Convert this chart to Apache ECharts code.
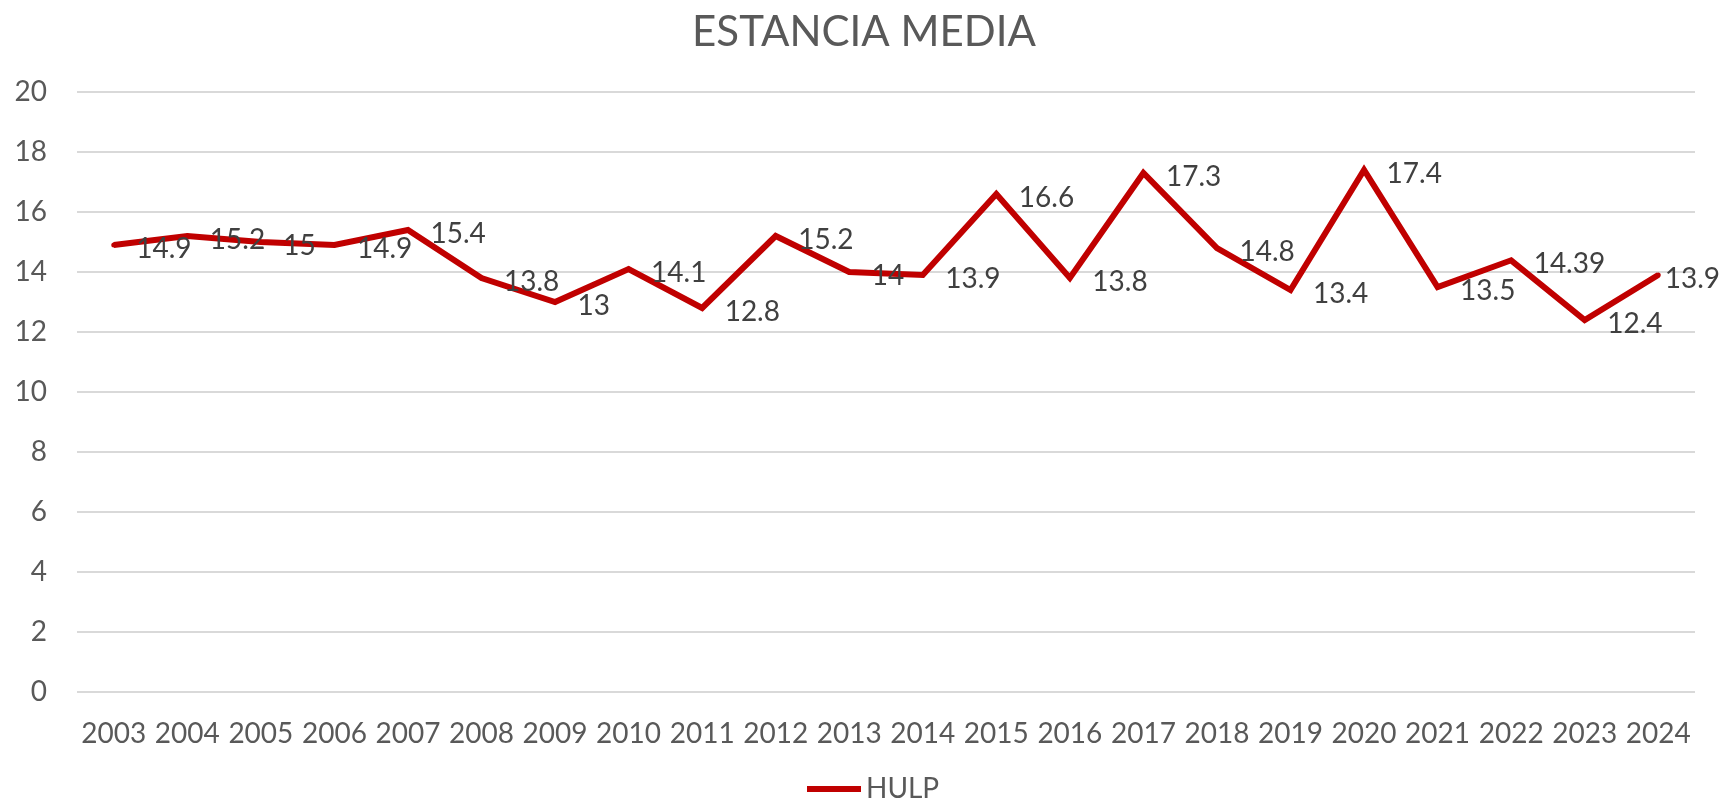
<!DOCTYPE html>
<html>
<head>
<meta charset="utf-8">
<title>ESTANCIA MEDIA</title>
<script src="https://cdn.jsdelivr.net/npm/echarts@6/dist/echarts.min.js"></script>
<style>
  html, body { margin: 0; padding: 0; background: #fff; }
  #chart { width: 1728px; height: 810px; }
</style>
</head>
<body>
<div id="chart"></div>
<script>
  // datos
  const years = ['2003', '2004', '2005', '2006', '2007', '2008', '2009', '2010', '2011', '2012', '2013',
    '2014', '2015', '2016', '2017', '2018', '2019', '2020', '2021', '2022', '2023', '2024'];
  const hulp = [14.9, 15.2, 15, 14.9, 15.4, 13.8, 13, 14.1, 12.8, 15.2, 14,
    13.9, 16.6, 13.8, 17.3, 14.8, 13.4, 17.4, 13.5, 14.39, 12.4, 13.9];
  const seriesName = 'HULP';
  const chartTitle = 'ESTANCIA MEDIA';

  const font = 'Lato, "Open Sans", sans-serif';
  // la ultima etiqueta se pega al punto para no salirse del grafico
  const seriesData = hulp.map((v, i) => i === hulp.length - 1
    ? { value: v, label: { distance: 4 } }
    : v);

  const chart = echarts.init(document.getElementById('chart'));
  chart.setOption({
    animation: false,
    title: {
      text: chartTitle,
      left: 'center',
      top: 6,
      textStyle: { color: '#595959', fontSize: 42, fontWeight: 'normal', fontFamily: font }
    },
    legend: {
      bottom: 2,
      left: 802,
      icon: 'rect',
      itemWidth: 54,
      itemHeight: 6,
      itemGap: 8,
      textStyle: { color: '#595959', fontSize: 28, fontFamily: font },
      data: [seriesName]
    },
    grid: { left: 77, right: 33, top: 92, bottom: 118 },
    xAxis: {
      type: 'category',
      data: years,
      boundaryGap: true,
      axisLine: { show: false },
      axisTick: { show: false },
      axisLabel: { color: '#595959', fontSize: 28, fontFamily: font, margin: 28, interval: 0 }
    },
    yAxis: {
      type: 'value',
      min: 0,
      max: 20,
      interval: 2,
      axisLine: { show: false },
      axisTick: { show: false },
      axisLabel: { color: '#595959', fontSize: 28, fontFamily: font, margin: 30 },
      splitLine: { lineStyle: { color: '#d9d9d9', width: 2 } }
    },
    series: [{
      name: seriesName,
      type: 'line',
      data: seriesData,
      symbol: 'circle',
      symbolSize: 5,
      showSymbol: true,
      lineStyle: { color: '#c00000', width: 6, join: 'miter' },
      itemStyle: { color: '#c00000' },
      label: {
        show: true,
        position: 'right',
        distance: 20,
        offset: [0, 4],
        color: '#404040',
        fontSize: 28,
        fontFamily: font
      }
    }]
  });
</script>
</body>
</html>
